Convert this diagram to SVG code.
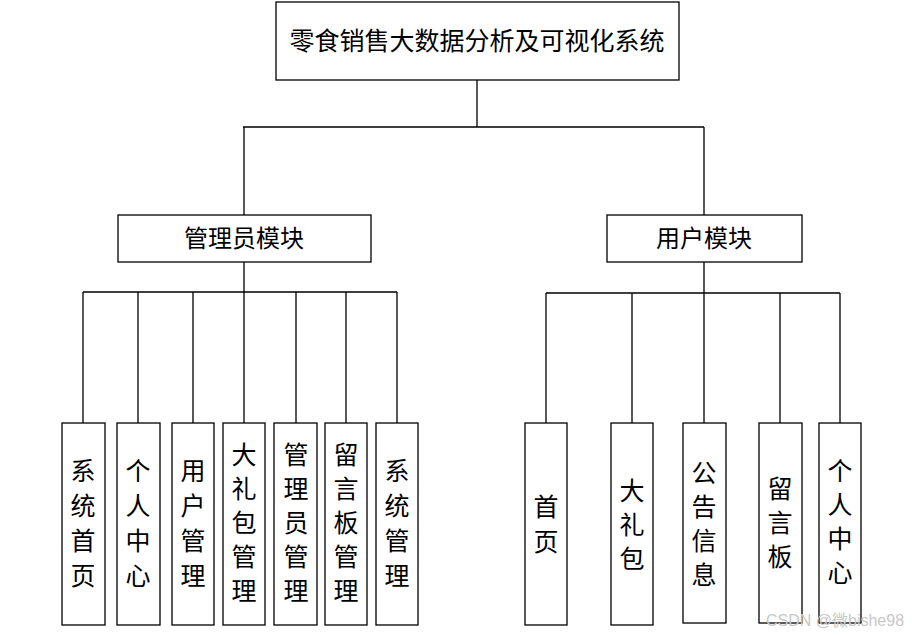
<svg xmlns="http://www.w3.org/2000/svg" width="912" height="635" viewBox="0 0 912 635">
<style>
rect{fill:#fff;stroke:#000;stroke-width:1.3}
.c{stroke:#000;stroke-width:1.3;fill:none}
text{font-family:"Liberation Sans","Noto Sans CJK SC",sans-serif;fill:#000;text-anchor:middle}
.v{font-size:25px}
</style>
<rect width="912" height="635" style="stroke:none"/>
<g id="connectors">
<path class="c" d="M477 80V127M243 127H704M244 127V215M704 127V215"/>
<path class="c" d="M244 262V292M83 292H397M83 292V423M138 292V423M193 292V423M244 292V423M296 292V423M346 292V423M397 292V423"/>
<path class="c" d="M704 262V293M546 293H840M546 293V423M632 293V423M704 293V423M780 293V423M840 293V423"/>
</g>
<g id="root"><rect x="276" y="2" width="403" height="78"/><text x="477" y="50" font-size="25">零食销售大数据分析及可视化系统</text></g>
<g id="admin"><rect x="118" y="215" width="253" height="47"/><text x="244" y="247" font-size="24">管理员模块</text></g>
<g id="user"><rect x="607" y="215" width="195" height="47"/><text x="704" y="247" font-size="24">用户模块</text></g>
<g class="v">
<g id="a1"><rect x="62" y="423" width="43" height="202"/><text x="83" class="v"><tspan x="83" y="480">系</tspan><tspan x="83" y="515">统</tspan><tspan x="83" y="550">首</tspan><tspan x="83" y="585">页</tspan></text></g>
<g id="a2"><rect x="117" y="423" width="43" height="202"/><text class="v"><tspan x="138" y="480">个</tspan><tspan x="138" y="515">人</tspan><tspan x="138" y="550">中</tspan><tspan x="138" y="585">心</tspan></text></g>
<g id="a3"><rect x="172" y="423" width="42" height="202"/><text class="v"><tspan x="193" y="480">用</tspan><tspan x="193" y="515">户</tspan><tspan x="193" y="550">管</tspan><tspan x="193" y="585">理</tspan></text></g>
<g id="a4"><rect x="223" y="423" width="42" height="202"/><text class="v"><tspan x="244" y="464">大</tspan><tspan x="244" y="498">礼</tspan><tspan x="244" y="532">包</tspan><tspan x="244" y="566">管</tspan><tspan x="244" y="600">理</tspan></text></g>
<g id="a5"><rect x="274" y="423" width="43" height="202"/><text class="v"><tspan x="296" y="464">管</tspan><tspan x="296" y="498">理</tspan><tspan x="296" y="532">员</tspan><tspan x="296" y="566">管</tspan><tspan x="296" y="600">理</tspan></text></g>
<g id="a6"><rect x="325" y="423" width="42" height="202"/><text class="v"><tspan x="346" y="464">留</tspan><tspan x="346" y="498">言</tspan><tspan x="346" y="532">板</tspan><tspan x="346" y="566">管</tspan><tspan x="346" y="600">理</tspan></text></g>
<g id="a7"><rect x="376" y="423" width="42" height="202"/><text class="v"><tspan x="397" y="480">系</tspan><tspan x="397" y="515">统</tspan><tspan x="397" y="550">管</tspan><tspan x="397" y="585">理</tspan></text></g>
<g id="u1"><rect x="525" y="423" width="42" height="202"/><text class="v"><tspan x="546" y="516">首</tspan><tspan x="546" y="551">页</tspan></text></g>
<g id="u2"><rect x="611" y="423" width="42" height="202"/><text class="v"><tspan x="632" y="500">大</tspan><tspan x="632" y="534">礼</tspan><tspan x="632" y="568">包</tspan></text></g>
<g id="u3"><rect x="683" y="423" width="43" height="200"/><text class="v"><tspan x="704" y="482">公</tspan><tspan x="704" y="516">告</tspan><tspan x="704" y="550">信</tspan><tspan x="704" y="584">息</tspan></text></g>
<g id="u4"><rect x="759" y="423" width="43" height="200"/><text class="v"><tspan x="780" y="498">留</tspan><tspan x="780" y="532">言</tspan><tspan x="780" y="566">板</tspan></text></g>
<g id="u5"><rect x="819" y="423" width="42" height="200"/><text class="v"><tspan x="840" y="480">个</tspan><tspan x="840" y="514">人</tspan><tspan x="840" y="548">中</tspan><tspan x="840" y="582">心</tspan></text></g>
</g>
<text x="835" y="626" font-size="16" style="fill:#c8c8c8">CSDN @微bishe98</text>
</svg>
